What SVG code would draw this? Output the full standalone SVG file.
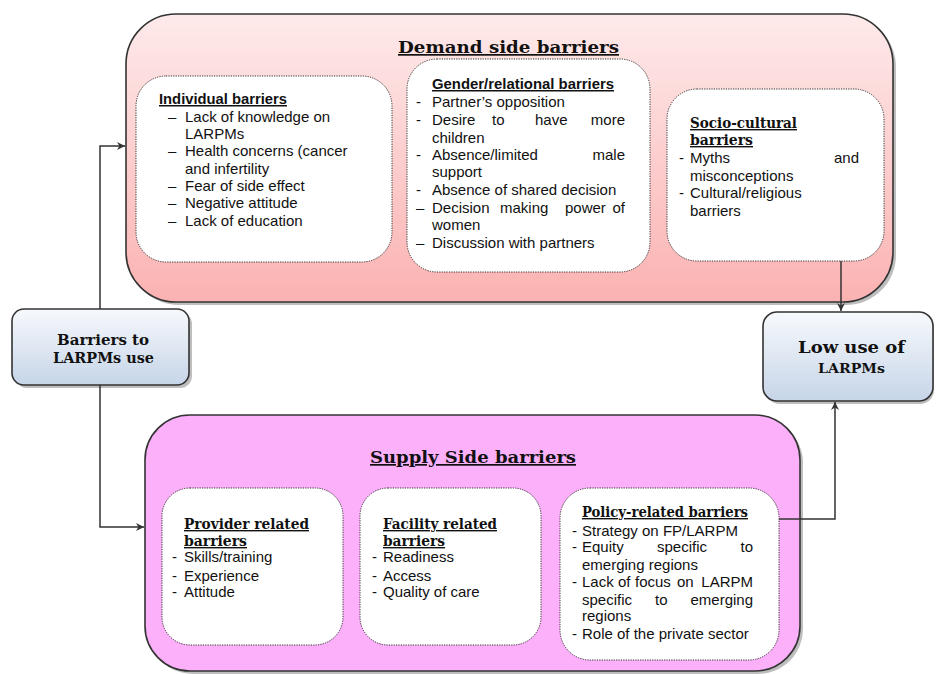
<svg xmlns="http://www.w3.org/2000/svg" width="937" height="674" viewBox="0 0 937 674">
<defs>
<linearGradient id="gDemand" x1="0" y1="0" x2="0" y2="1">
<stop offset="0" stop-color="#feeaea"/>
<stop offset="1" stop-color="#fbb2b2"/>
</linearGradient>
<linearGradient id="gBlue" x1="0" y1="0" x2="0" y2="1">
<stop offset="0" stop-color="#f7f9fc"/>
<stop offset="1" stop-color="#c6d5e8"/>
</linearGradient>
<marker id="arr" viewBox="0 0 10 10" refX="10" refY="5" markerWidth="9" markerHeight="8" markerUnits="userSpaceOnUse" orient="auto">
<path d="M0,0 L10,5 L0,10 L3,5 Z" fill="#333"/>
</marker>
</defs>
<style>
.outer{stroke:#333;stroke-width:1.6}
.shadow{fill:#888;opacity:0.55}
.inner{fill:#fff;stroke:#333;stroke-width:1;stroke-dasharray:1.2 1.2}
.body{font-family:"Liberation Sans",Arial,sans-serif;font-size:15px;fill:#111}
.bh{font-family:"Liberation Sans",Arial,sans-serif;font-size:15px;font-weight:bold;fill:#111;text-decoration:underline}
.sh{font-family:"DejaVu Serif","Liberation Serif",serif;font-size:14px;font-weight:bold;fill:#111;text-decoration:underline}
.title{font-family:"DejaVu Serif","Liberation Serif",serif;font-size:17px;font-weight:bold;fill:#111;text-decoration:underline}
.nt{font-family:"DejaVu Serif","Liberation Serif",serif;font-weight:bold;fill:#111}
.conn{fill:none;stroke:#333;stroke-width:1.5}
.end{text-anchor:end}
</style>

<g id="demand">
<rect class="shadow" x="129" y="17" width="767" height="288" rx="50"/>
<rect class="outer" x="126" y="14" width="767" height="288" rx="50" fill="url(#gDemand)"/>
<text class="title" x="398" y="53" textLength="221" lengthAdjust="spacingAndGlyphs">Demand side barriers</text>
</g>

<g id="individual">
<rect class="inner" x="136" y="76" width="256" height="186" rx="30"/>
<text class="bh" x="159" y="104" textLength="128" lengthAdjust="spacingAndGlyphs">Individual barriers</text>
<text class="body" x="168" y="122">–</text><text class="body" x="185" y="122">Lack of knowledge on</text>
<text class="body" x="185" y="139">LARPMs</text>
<text class="body" x="168" y="156">–</text><text class="body" x="185" y="156">Health concerns (cancer</text>
<text class="body" x="185" y="174">and infertility</text>
<text class="body" x="168" y="191">–</text><text class="body" x="185" y="191">Fear of side effect</text>
<text class="body" x="168" y="208">–</text><text class="body" x="185" y="208">Negative attitude</text>
<text class="body" x="168" y="226">–</text><text class="body" x="185" y="226">Lack of education</text>
</g>

<g id="gender">
<rect class="inner" x="407" y="59" width="243" height="213" rx="30"/>
<text class="bh" x="432" y="89" textLength="182" lengthAdjust="spacingAndGlyphs">Gender/relational barriers</text>
<text class="body" x="416" y="107">-</text><text class="body" x="432" y="107">Partner’s opposition</text>
<text class="body" x="416" y="125">-</text><text class="body" x="432" y="125">Desire</text><text class="body" x="492" y="125">to</text><text class="body" x="535" y="125">have</text><text class="body end" x="625" y="125">more</text>
<text class="body" x="432" y="143">children</text>
<text class="body" x="416" y="160">-</text><text class="body" x="432" y="160">Absence/limited</text><text class="body end" x="625" y="160">male</text>
<text class="body" x="432" y="177">support</text>
<text class="body" x="416" y="195">-</text><text class="body" x="432" y="195">Absence of shared decision</text>
<text class="body" x="416" y="213">–</text><text class="body" x="432" y="213">Decision</text><text class="body" x="500" y="213">making</text><text class="body" x="565" y="213">power</text><text class="body end" x="625" y="213">of</text>
<text class="body" x="432" y="230">women</text>
<text class="body" x="416" y="248">–</text><text class="body" x="432" y="248">Discussion with partners</text>
</g>

<g id="sociocultural">
<rect class="inner" x="667" y="89" width="217" height="172" rx="30"/>
<text class="sh" x="690" y="128" textLength="107" lengthAdjust="spacingAndGlyphs">Socio-cultural</text>
<text class="sh" x="690" y="145" textLength="63" lengthAdjust="spacingAndGlyphs">barriers</text>
<text class="body" x="679" y="163">-</text><text class="body" x="690" y="163">Myths</text><text class="body end" x="859" y="163">and</text>
<text class="body" x="690" y="181">misconceptions</text>
<text class="body" x="679" y="198">-</text><text class="body" x="690" y="198">Cultural/religious</text>
<text class="body" x="690" y="216">barriers</text>
</g>

<g id="barriers-to-larpms">
<rect class="shadow" x="15" y="312" width="177" height="76" rx="12"/>
<rect class="outer" x="12" y="309" width="177" height="76" rx="12" fill="url(#gBlue)"/>
<text class="nt" x="57" y="345" font-size="14.5" textLength="92" lengthAdjust="spacingAndGlyphs">Barriers to</text>
<text class="nt" x="53" y="363" font-size="14.5" textLength="101" lengthAdjust="spacingAndGlyphs">LARPMs use</text>
</g>

<g id="low-use">
<rect class="shadow" x="766" y="315" width="168" height="89" rx="14"/>
<rect class="outer" x="763" y="312" width="170" height="89" rx="14" fill="url(#gBlue)"/>
<text class="nt" x="798" y="353" font-size="17" textLength="107" lengthAdjust="spacingAndGlyphs">Low use of</text>
<text class="nt" x="818" y="373" font-size="13.5" textLength="67" lengthAdjust="spacingAndGlyphs">LARPMs</text>
</g>

<g id="supply">
<rect class="shadow" x="148" y="418" width="655" height="256" rx="45"/>
<rect class="outer" x="145" y="415" width="655" height="256" rx="45" fill="#fcb0fa"/>
<text class="title" x="370" y="463" textLength="206" lengthAdjust="spacingAndGlyphs">Supply Side barriers</text>
</g>

<g id="provider">
<rect class="inner" x="162" y="488" width="181" height="157" rx="28"/>
<text class="sh" x="184" y="529" textLength="125" lengthAdjust="spacingAndGlyphs">Provider related</text>
<text class="sh" x="184" y="546" textLength="63" lengthAdjust="spacingAndGlyphs">barriers</text>
<text class="body" x="172" y="562">-</text><text class="body" x="184" y="562">Skills/training</text>
<text class="body" x="172" y="581">-</text><text class="body" x="184" y="581">Experience</text>
<text class="body" x="172" y="597">-</text><text class="body" x="184" y="597">Attitude</text>
</g>

<g id="facility">
<rect class="inner" x="360" y="488" width="181" height="157" rx="28"/>
<text class="sh" x="383" y="529" textLength="114" lengthAdjust="spacingAndGlyphs">Facility related</text>
<text class="sh" x="383" y="546" textLength="62" lengthAdjust="spacingAndGlyphs">barriers</text>
<text class="body" x="372" y="562">-</text><text class="body" x="383" y="562">Readiness</text>
<text class="body" x="372" y="581">-</text><text class="body" x="383" y="581">Access</text>
<text class="body" x="372" y="597">-</text><text class="body" x="383" y="597">Quality of care</text>
</g>

<g id="policy">
<rect class="inner" x="560" y="488" width="219" height="172" rx="30"/>
<text class="sh" x="582" y="517" textLength="166" lengthAdjust="spacingAndGlyphs">Policy-related barriers</text>
<text class="body" x="572" y="536">-</text><text class="body" x="582" y="536">Strategy on FP/LARPM</text>
<text class="body" x="572" y="552">-</text><text class="body" x="582" y="552">Equity</text><text class="body" x="657" y="552">specific</text><text class="body end" x="753" y="552">to</text>
<text class="body" x="582" y="570">emerging regions</text>
<text class="body" x="572" y="587">-</text><text class="body" x="582" y="587">Lack</text><text class="body" x="618" y="587">of</text><text class="body" x="635" y="587">focus</text><text class="body" x="677" y="587">on</text><text class="body end" x="753" y="587">LARPM</text>
<text class="body" x="582" y="605">specific</text><text class="body" x="655" y="605">to</text><text class="body end" x="753" y="605">emerging</text>
<text class="body" x="582" y="621">regions</text>
<text class="body" x="572" y="639" font-size="9">-</text><text class="body" x="582" y="639">Role of the private sector</text>
</g>

<g id="connectors">
<path class="conn" d="M100,309 V146 H125" marker-end="url(#arr)"/>
<path class="conn" d="M100,385 V527 H144" marker-end="url(#arr)"/>
<path class="conn" d="M841,261 V311" marker-end="url(#arr)"/>
<path class="conn" d="M779,519 H835 V402" marker-end="url(#arr)"/>
</g>
</svg>
